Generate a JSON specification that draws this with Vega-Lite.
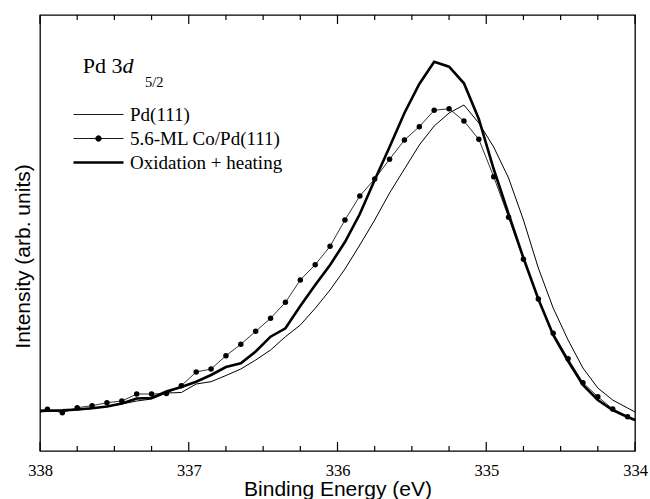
{
  "$schema": "https://vega.github.io/schema/vega-lite/v6.json",
  "width": 595,
  "height": 436,
  "autosize": {"type": "none"},
  "padding": {"left": 40, "top": 15, "right": 15, "bottom": 48},
  "background": "white",
  "config": {
    "view": {"stroke": "black", "strokeWidth": 1.3},
    "axis": {"domain": false, "grid": false}
  },
  "datasets": {
    "majorTicks": [
      {"energy": 334}, {"energy": 335}, {"energy": 336}, {"energy": 337}, {"energy": 338}
    ],
    "minorTicks": [
      {"energy": 334.25}, {"energy": 334.5}, {"energy": 334.75},
      {"energy": 335.25}, {"energy": 335.5}, {"energy": 335.75},
      {"energy": 336.25}, {"energy": 336.5}, {"energy": 336.75},
      {"energy": 337.25}, {"energy": 337.5}, {"energy": 337.75}
    ],
    "spectra": [
      {"series": "Pd(111)", "energy": 338, "intensity": 39},
      {"series": "Pd(111)", "energy": 337.95, "intensity": 40},
      {"series": "Pd(111)", "energy": 337.85, "intensity": 40.5},
      {"series": "Pd(111)", "energy": 337.75, "intensity": 41},
      {"series": "Pd(111)", "energy": 337.65, "intensity": 42.5},
      {"series": "Pd(111)", "energy": 337.55, "intensity": 44.5},
      {"series": "Pd(111)", "energy": 337.45, "intensity": 47},
      {"series": "Pd(111)", "energy": 337.35, "intensity": 50},
      {"series": "Pd(111)", "energy": 337.25, "intensity": 52},
      {"series": "Pd(111)", "energy": 337.15, "intensity": 58},
      {"series": "Pd(111)", "energy": 337.05, "intensity": 58.5},
      {"series": "Pd(111)", "energy": 336.95, "intensity": 67},
      {"series": "Pd(111)", "energy": 336.85, "intensity": 69.3},
      {"series": "Pd(111)", "energy": 336.75, "intensity": 75.5},
      {"series": "Pd(111)", "energy": 336.65, "intensity": 82},
      {"series": "Pd(111)", "energy": 336.55, "intensity": 91},
      {"series": "Pd(111)", "energy": 336.45, "intensity": 101},
      {"series": "Pd(111)", "energy": 336.35, "intensity": 114.3},
      {"series": "Pd(111)", "energy": 336.25, "intensity": 126},
      {"series": "Pd(111)", "energy": 336.15, "intensity": 142.7},
      {"series": "Pd(111)", "energy": 336.05, "intensity": 161},
      {"series": "Pd(111)", "energy": 335.95, "intensity": 182},
      {"series": "Pd(111)", "energy": 335.85, "intensity": 206},
      {"series": "Pd(111)", "energy": 335.75, "intensity": 231},
      {"series": "Pd(111)", "energy": 335.65, "intensity": 258},
      {"series": "Pd(111)", "energy": 335.55, "intensity": 282},
      {"series": "Pd(111)", "energy": 335.45, "intensity": 306},
      {"series": "Pd(111)", "energy": 335.35, "intensity": 325},
      {"series": "Pd(111)", "energy": 335.25, "intensity": 338},
      {"series": "Pd(111)", "energy": 335.15, "intensity": 346},
      {"series": "Pd(111)", "energy": 335.05, "intensity": 328},
      {"series": "Pd(111)", "energy": 334.95, "intensity": 304},
      {"series": "Pd(111)", "energy": 334.85, "intensity": 273},
      {"series": "Pd(111)", "energy": 334.75, "intensity": 231},
      {"series": "Pd(111)", "energy": 334.65, "intensity": 183},
      {"series": "Pd(111)", "energy": 334.55, "intensity": 143},
      {"series": "Pd(111)", "energy": 334.45, "intensity": 111},
      {"series": "Pd(111)", "energy": 334.35, "intensity": 83},
      {"series": "Pd(111)", "energy": 334.25, "intensity": 63},
      {"series": "Pd(111)", "energy": 334.15, "intensity": 51},
      {"series": "Pd(111)", "energy": 334.05, "intensity": 43},
      {"series": "Pd(111)", "energy": 334, "intensity": 39},

      {"series": "5.6-ML Co/Pd(111)", "energy": 338, "intensity": 41},
      {"series": "5.6-ML Co/Pd(111)", "energy": 337.95, "intensity": 41.7},
      {"series": "5.6-ML Co/Pd(111)", "energy": 337.85, "intensity": 38.3},
      {"series": "5.6-ML Co/Pd(111)", "energy": 337.75, "intensity": 43.3},
      {"series": "5.6-ML Co/Pd(111)", "energy": 337.65, "intensity": 45.3},
      {"series": "5.6-ML Co/Pd(111)", "energy": 337.55, "intensity": 48.3},
      {"series": "5.6-ML Co/Pd(111)", "energy": 337.45, "intensity": 50},
      {"series": "5.6-ML Co/Pd(111)", "energy": 337.35, "intensity": 57},
      {"series": "5.6-ML Co/Pd(111)", "energy": 337.25, "intensity": 57},
      {"series": "5.6-ML Co/Pd(111)", "energy": 337.15, "intensity": 57.5},
      {"series": "5.6-ML Co/Pd(111)", "energy": 337.05, "intensity": 65.3},
      {"series": "5.6-ML Co/Pd(111)", "energy": 336.95, "intensity": 79},
      {"series": "5.6-ML Co/Pd(111)", "energy": 336.85, "intensity": 82},
      {"series": "5.6-ML Co/Pd(111)", "energy": 336.75, "intensity": 95.3},
      {"series": "5.6-ML Co/Pd(111)", "energy": 336.65, "intensity": 106.7},
      {"series": "5.6-ML Co/Pd(111)", "energy": 336.55, "intensity": 119.7},
      {"series": "5.6-ML Co/Pd(111)", "energy": 336.45, "intensity": 132.7},
      {"series": "5.6-ML Co/Pd(111)", "energy": 336.35, "intensity": 148.7},
      {"series": "5.6-ML Co/Pd(111)", "energy": 336.25, "intensity": 171},
      {"series": "5.6-ML Co/Pd(111)", "energy": 336.15, "intensity": 186.3},
      {"series": "5.6-ML Co/Pd(111)", "energy": 336.05, "intensity": 204.7},
      {"series": "5.6-ML Co/Pd(111)", "energy": 335.95, "intensity": 231},
      {"series": "5.6-ML Co/Pd(111)", "energy": 335.85, "intensity": 255},
      {"series": "5.6-ML Co/Pd(111)", "energy": 335.75, "intensity": 272},
      {"series": "5.6-ML Co/Pd(111)", "energy": 335.65, "intensity": 291.7},
      {"series": "5.6-ML Co/Pd(111)", "energy": 335.55, "intensity": 311},
      {"series": "5.6-ML Co/Pd(111)", "energy": 335.45, "intensity": 324.3},
      {"series": "5.6-ML Co/Pd(111)", "energy": 335.35, "intensity": 340.7},
      {"series": "5.6-ML Co/Pd(111)", "energy": 335.25, "intensity": 342.3},
      {"series": "5.6-ML Co/Pd(111)", "energy": 335.15, "intensity": 330},
      {"series": "5.6-ML Co/Pd(111)", "energy": 335.05, "intensity": 311.7},
      {"series": "5.6-ML Co/Pd(111)", "energy": 334.95, "intensity": 274.3},
      {"series": "5.6-ML Co/Pd(111)", "energy": 334.85, "intensity": 233.7},
      {"series": "5.6-ML Co/Pd(111)", "energy": 334.75, "intensity": 191.7},
      {"series": "5.6-ML Co/Pd(111)", "energy": 334.65, "intensity": 152},
      {"series": "5.6-ML Co/Pd(111)", "energy": 334.55, "intensity": 117.7},
      {"series": "5.6-ML Co/Pd(111)", "energy": 334.45, "intensity": 92.3},
      {"series": "5.6-ML Co/Pd(111)", "energy": 334.35, "intensity": 68.3},
      {"series": "5.6-ML Co/Pd(111)", "energy": 334.25, "intensity": 54.3},
      {"series": "5.6-ML Co/Pd(111)", "energy": 334.15, "intensity": 42},
      {"series": "5.6-ML Co/Pd(111)", "energy": 334.05, "intensity": 34.3},
      {"series": "5.6-ML Co/Pd(111)", "energy": 334, "intensity": 31},

      {"series": "Oxidation + heating", "energy": 338, "intensity": 40},
      {"series": "Oxidation + heating", "energy": 337.95, "intensity": 40.3},
      {"series": "Oxidation + heating", "energy": 337.85, "intensity": 40.6},
      {"series": "Oxidation + heating", "energy": 337.75, "intensity": 41.5},
      {"series": "Oxidation + heating", "energy": 337.65, "intensity": 42.8},
      {"series": "Oxidation + heating", "energy": 337.55, "intensity": 44.5},
      {"series": "Oxidation + heating", "energy": 337.45, "intensity": 47.5},
      {"series": "Oxidation + heating", "energy": 337.35, "intensity": 52.5},
      {"series": "Oxidation + heating", "energy": 337.25, "intensity": 53},
      {"series": "Oxidation + heating", "energy": 337.15, "intensity": 59.5},
      {"series": "Oxidation + heating", "energy": 337.05, "intensity": 64},
      {"series": "Oxidation + heating", "energy": 336.95, "intensity": 69.3},
      {"series": "Oxidation + heating", "energy": 336.85, "intensity": 76},
      {"series": "Oxidation + heating", "energy": 336.75, "intensity": 84},
      {"series": "Oxidation + heating", "energy": 336.65, "intensity": 87.7},
      {"series": "Oxidation + heating", "energy": 336.55, "intensity": 99.5},
      {"series": "Oxidation + heating", "energy": 336.45, "intensity": 114.3},
      {"series": "Oxidation + heating", "energy": 336.35, "intensity": 122.7},
      {"series": "Oxidation + heating", "energy": 336.25, "intensity": 145},
      {"series": "Oxidation + heating", "energy": 336.15, "intensity": 166},
      {"series": "Oxidation + heating", "energy": 336.05, "intensity": 186},
      {"series": "Oxidation + heating", "energy": 335.95, "intensity": 209},
      {"series": "Oxidation + heating", "energy": 335.85, "intensity": 237},
      {"series": "Oxidation + heating", "energy": 335.75, "intensity": 271},
      {"series": "Oxidation + heating", "energy": 335.65, "intensity": 304},
      {"series": "Oxidation + heating", "energy": 335.55, "intensity": 338},
      {"series": "Oxidation + heating", "energy": 335.45, "intensity": 367},
      {"series": "Oxidation + heating", "energy": 335.35, "intensity": 389.3},
      {"series": "Oxidation + heating", "energy": 335.25, "intensity": 384.3},
      {"series": "Oxidation + heating", "energy": 335.15, "intensity": 367.7},
      {"series": "Oxidation + heating", "energy": 335.05, "intensity": 332},
      {"series": "Oxidation + heating", "energy": 334.95, "intensity": 282},
      {"series": "Oxidation + heating", "energy": 334.85, "intensity": 237},
      {"series": "Oxidation + heating", "energy": 334.75, "intensity": 193},
      {"series": "Oxidation + heating", "energy": 334.65, "intensity": 152},
      {"series": "Oxidation + heating", "energy": 334.55, "intensity": 116},
      {"series": "Oxidation + heating", "energy": 334.45, "intensity": 90},
      {"series": "Oxidation + heating", "energy": 334.35, "intensity": 66},
      {"series": "Oxidation + heating", "energy": 334.25, "intensity": 51},
      {"series": "Oxidation + heating", "energy": 334.15, "intensity": 41},
      {"series": "Oxidation + heating", "energy": 334.05, "intensity": 34},
      {"series": "Oxidation + heating", "energy": 334, "intensity": 31}
    ]
  },
  "resolve": {"axis": {"x": "independent", "y": "independent"}},
  "layer": [
    {
      "data": {"name": "spectra"},
      "transform": [{"filter": "datum.series === 'Pd(111)'"}],
      "mark": {"type": "line", "clip": true, "strokeWidth": 1},
      "encoding": {
        "x": {
          "field": "energy", "type": "quantitative",
          "scale": {"domain": [334, 338], "reverse": true, "nice": false, "zero": false},
          "axis": {
            "orient": "bottom",
            "values": [334, 335, 336, 337, 338],
            "format": "d",
            "ticks": false,
            "labelOverlap": false, "labelFlush": false,
            "labelFont": "Liberation Serif", "labelFontSize": 16.5, "labelColor": "black", "labelPadding": 11,
            "title": "Binding Energy (eV)", "titleFont": "Liberation Sans", "titleFontSize": 21,
            "titleFontWeight": "normal", "titleColor": "black", "titlePadding": 0
          }
        },
        "y": {
          "field": "intensity", "type": "quantitative",
          "scale": {"domain": [0, 436], "nice": false, "zero": false},
          "axis": {
            "title": "Intensity (arb. units)", "labels": false, "ticks": false, "domain": false,
            "titleFont": "Liberation Sans", "titleFontSize": 21, "titleFontWeight": "normal",
            "titleColor": "black", "titlePadding": 7, "titleY": 241
          }
        },
        "color": {
          "field": "series", "type": "nominal",
          "scale": {"domain": ["Pd(111)", "5.6-ML Co/Pd(111)", "Oxidation + heating"], "range": ["black", "black", "black"]},
          "legend": {
            "orient": "none", "legendX": 49, "legendY": 90, "title": null,
            "symbolSize": 100, "symbolType": "M-5,0H5",
            "labelFont": "Liberation Serif", "labelFontSize": 19, "labelColor": "black",
            "labelOffset": 22, "rowPadding": 4, "padding": 0,
            "encode": {
              "symbols": {
                "update": {
                  "shape": {"signal": "datum.value === '5.6-ML Co/Pd(111)' ? 'M-5,0H5M-0.55,0A0.55,0.55,0,1,0,0.55,0A0.55,0.55,0,1,0,-0.55,0Z' : 'M-5,0H5'"},
                  "strokeWidth": {"signal": "datum.value === 'Oxidation + heating' ? 2.6 : 0.9"},
                  "stroke": {"value": "black"},
                  "fill": {"value": "black"},
                  "opacity": {"value": 1}
                }
              }
            }
          }
        }
      }
    },
    {
      "data": {"name": "spectra"},
      "transform": [{"filter": "datum.series === '5.6-ML Co/Pd(111)'"}],
      "mark": {"type": "line", "clip": true, "strokeWidth": 0.8},
      "encoding": {
        "x": {"field": "energy", "type": "quantitative", "axis": null},
        "y": {"field": "intensity", "type": "quantitative", "axis": null},
        "color": {"field": "series", "type": "nominal"}
      }
    },
    {
      "data": {"name": "spectra"},
      "transform": [{"filter": "datum.series === 'Oxidation + heating'"}],
      "mark": {"type": "line", "clip": true, "strokeWidth": 2.6},
      "encoding": {
        "x": {"field": "energy", "type": "quantitative", "axis": null},
        "y": {"field": "intensity", "type": "quantitative", "axis": null},
        "color": {"field": "series", "type": "nominal"}
      }
    },
    {
      "data": {"name": "spectra"},
      "transform": [{"filter": "datum.series === '5.6-ML Co/Pd(111)' && datum.energy < 338 && datum.energy > 334"}],
      "mark": {"type": "point", "filled": true, "color": "black", "size": 30, "opacity": 1},
      "encoding": {
        "x": {"field": "energy", "type": "quantitative", "axis": null},
        "y": {"field": "intensity", "type": "quantitative", "axis": null}
      }
    },
    {
      "data": {"name": "majorTicks"},
      "mark": {"type": "rule", "color": "black", "strokeWidth": 1.2},
      "encoding": {
        "x": {"field": "energy", "type": "quantitative", "axis": null},
        "y": {"datum": 0, "type": "quantitative", "axis": null},
        "y2": {"datum": 9}
      }
    },
    {
      "data": {"name": "majorTicks"},
      "mark": {"type": "rule", "color": "black", "strokeWidth": 1.2},
      "encoding": {
        "x": {"field": "energy", "type": "quantitative", "axis": null},
        "y": {"datum": 427, "type": "quantitative", "axis": null},
        "y2": {"datum": 436}
      }
    },
    {
      "data": {"name": "minorTicks"},
      "mark": {"type": "rule", "color": "black", "strokeWidth": 1.2},
      "encoding": {
        "x": {"field": "energy", "type": "quantitative", "axis": null},
        "y": {"datum": 0, "type": "quantitative", "axis": null},
        "y2": {"datum": 5}
      }
    },
    {
      "data": {"name": "minorTicks"},
      "mark": {"type": "rule", "color": "black", "strokeWidth": 1.2},
      "encoding": {
        "x": {"field": "energy", "type": "quantitative", "axis": null},
        "y": {"datum": 431, "type": "quantitative", "axis": null},
        "y2": {"datum": 436}
      }
    },
    {
      "data": {"values": [{}]},
      "mark": {"type": "text", "font": "Liberation Serif", "fontSize": 22, "align": "left", "baseline": "alphabetic", "color": "black"},
      "encoding": {
        "x": {"datum": 337.713, "type": "quantitative", "axis": null},
        "y": {"datum": 377.7, "type": "quantitative", "axis": null},
        "text": {"value": "Pd 3"}
      }
    },
    {
      "data": {"values": [{}]},
      "mark": {"type": "text", "font": "Liberation Serif", "fontSize": 22, "fontStyle": "italic", "align": "left", "baseline": "alphabetic", "color": "black"},
      "encoding": {
        "x": {"datum": 337.446, "type": "quantitative", "axis": null},
        "y": {"datum": 377.7, "type": "quantitative", "axis": null},
        "text": {"value": "d"}
      }
    },
    {
      "data": {"values": [{}]},
      "mark": {"type": "text", "font": "Liberation Serif", "fontSize": 14.5, "align": "left", "baseline": "alphabetic", "color": "black"},
      "encoding": {
        "x": {"datum": 337.294, "type": "quantitative", "axis": null},
        "y": {"datum": 364.3, "type": "quantitative", "axis": null},
        "text": {"value": "5/2"}
      }
    }
  ]
}
